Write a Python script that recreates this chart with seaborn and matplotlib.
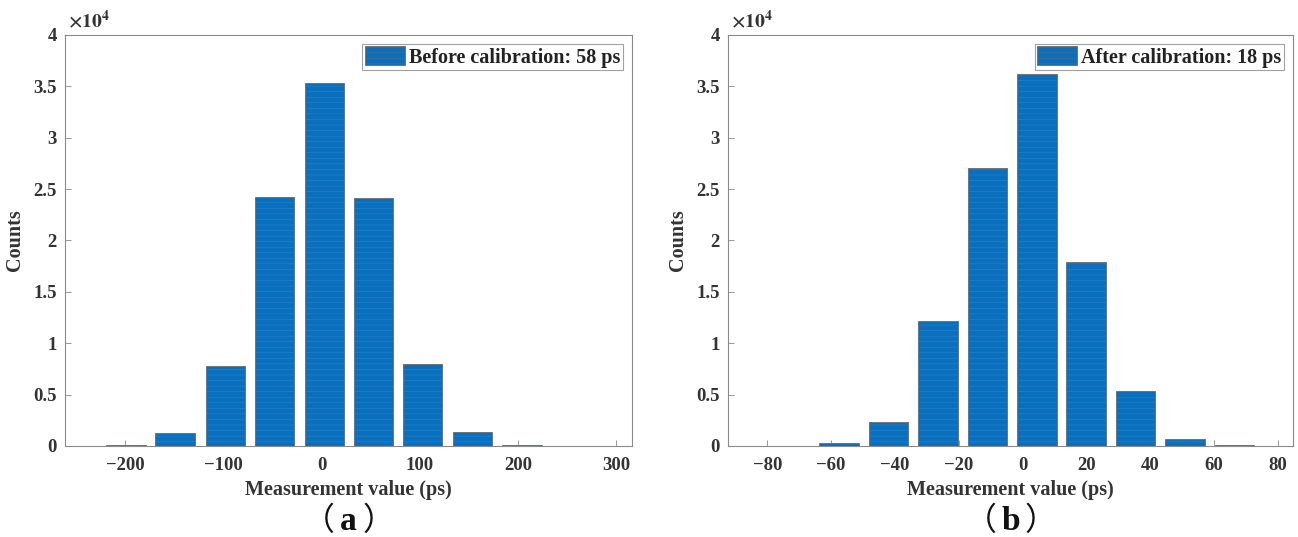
import numpy as np
import pandas as pd
import matplotlib
matplotlib.use("Agg")
import matplotlib.pyplot as plt
import seaborn as sns
from matplotlib.ticker import FuncFormatter, MultipleLocator
from matplotlib.patches import Patch

sns.set_theme(style="white")
plt.rcParams['font.family'] = ['Liberation Serif', 'Noto Sans CJK SC', 'DejaVu Sans']
plt.rcParams['font.weight'] = 'bold'
plt.rcParams['mathtext.fontset'] = 'stix'
plt.rcParams['hatch.linewidth'] = 0.35

# ---- data ----
before_x = [-199, -149, -98, -48, 3, 53, 103, 154, 204]
before_counts = [100, 1250, 7800, 24200, 35300, 24100, 8000, 1350, 120]
after_x = [-73, -57.5, -42, -26.5, -11, 4.5, 20, 35.5, 51, 66.5]
after_counts = [0, 300, 2350, 12200, 27100, 36200, 17900, 5400, 700, 80]
before_label = "Before calibration: 58 ps"
after_label = "After calibration: 18 ps"
xlabel = "Measurement value (ps)"
ylabel = "Counts"
panel_letters = ["a", "b"]
before_xticks = [-200, -100, 0, 100, 200, 300]
after_xticks = [-80, -60, -40, -20, 0, 20, 40, 60, 80]

BAR = "#0a6fbd"
EDGE = "#6a6a6a"
STRIPE = "#2e86cc"
TXT = "#333333"

fig = plt.figure(figsize=(12.98, 5.37), dpi=100)
W, H = 1298, 537
axA = fig.add_axes([65 / W, (H - 446) / H, (632 - 65) / W, (446 - 35) / H])
axB = fig.add_axes([728 / W, (H - 446) / H, (1293 - 728) / W, (446 - 35) / H])

panels = [
    (axA, before_x, before_counts, before_label, before_xticks, (-261, 316), panel_letters[0]),
    (axB, after_x, after_counts, after_label, after_xticks, (-92.3, 84.8), panel_letters[1]),
]

for ax, xs, ys, lab, xt, xl, pl in panels:
    df = pd.DataFrame({"x": xs, "y": ys})
    sns.barplot(data=df, x="x", y="y", native_scale=True, width=0.8,
                color=BAR, saturation=1, edgecolor=EDGE, linewidth=0.6, ax=ax)
    for p in ax.patches:
        p.set_hatch('---')
        p._hatch_color = matplotlib.colors.to_rgba(STRIPE)
    ax.set_xlim(*xl)
    ax.set_ylim(0, 40000)
    ax.set_xticks(xt)
    ax.yaxis.set_major_locator(MultipleLocator(5000))
    ax.yaxis.set_major_formatter(FuncFormatter(lambda v, p: f"{v/1e4:g}"))
    ax.set_xticklabels([str(t).replace('-', '\u2212') for t in xt])
    ax.tick_params(direction='in', length=4, width=0.6, color='#888888',
                   labelsize=13.5, labelcolor=TXT, bottom=True, left=True)
    ax.tick_params(axis='x', pad=8)
    ax.tick_params(axis='y', pad=6)
    for lbl in ax.get_xticklabels() + ax.get_yticklabels():
        lbl.set_fontweight('bold')
    for s in ax.spines.values():
        s.set_color('#8a8a8a')
        s.set_linewidth(0.8)
    ax.set_xlabel(xlabel, fontsize=14.5, fontweight='bold', color=TXT, labelpad=4)
    ax.set_ylabel(ylabel, fontsize=14.5, fontweight='bold', color=TXT, labelpad=6)
    ax.text(0.005, 1.008, r"$\times\mathbf{10^4}$", transform=ax.transAxes,
            fontsize=14, color=TXT, ha='left', va='bottom')
    handle = Patch(facecolor=BAR, edgecolor=EDGE, linewidth=0.6, hatch='---')
    leg = ax.legend([handle], [lab], loc='upper right',
                    prop={'weight': 'bold', 'size': 14.5}, frameon=True, fancybox=False,
                    edgecolor='#8a8a8a', handlelength=2.0, handleheight=1.05,
                    handletextpad=0.2, borderpad=0.12, borderaxespad=0.45)
    leg.get_frame().set_linewidth(0.8)
    for t in leg.get_texts():
        t.set_color('#222222')
    bb = ax.get_position()
    cx = bb.x0 + bb.width / 2
    cy = 1 - 521 / H
    d = 14 / W
    fig.text(cx - d, cy, "（", fontsize=23, fontweight='normal', ha='right', va='center',
             color='#111111', family=['Noto Sans CJK SC'])
    fig.text(cx, cy, pl, fontsize=24, fontweight='bold', ha='center', va='center',
             color='#111111')
    fig.text(cx + d, cy, "）", fontsize=23, fontweight='normal', ha='left', va='center',
             color='#111111', family=['Noto Sans CJK SC'])

fig.savefig("out.png", dpi=100)
